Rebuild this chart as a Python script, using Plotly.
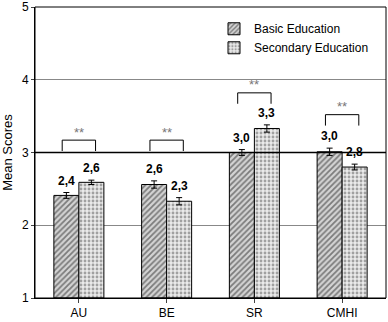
import plotly.graph_objects as go

categories = ["AU", "BE", "SR", "CMHI"]
basic_values = [2.41, 2.56, 3.00, 3.01]
secondary_values = [2.59, 2.33, 3.33, 2.80]
basic_err = [0.04, 0.05, 0.04, 0.05]
secondary_err = [0.03, 0.05, 0.05, 0.04]
basic_labels = ["2,4", "2,6", "3,0", "3,0"]
secondary_labels = ["2,6", "2,3", "3,3", "2,8"]
significance = ["**", "**", "**", "**"]
y_ticks = [1, 2, 3, 4, 5]

# layout constants (bracket heights in data units)
bracket_top = [3.17, 3.17, 3.82, 3.52]
bracket_leg = 0.15
bracket_half = 0.19

FONT = "Liberation Sans, Arial, sans-serif"
bargap = 0.43
half_w = (1 - bargap) / 4

fig = go.Figure()
fig.add_trace(go.Bar(
    x=list(range(len(categories))), y=[v - 1 for v in basic_values], base=1,
    name="Basic Education",
    marker=dict(color="white", line=dict(color="black", width=1),
                pattern=dict(shape="/", fgcolor="#222", bgcolor="#d4d4d4", size=4, solidity=0.45)),
    error_y=dict(type="data", array=basic_err, color="black", thickness=1, width=3),
))
fig.add_trace(go.Bar(
    x=list(range(len(categories))), y=[v - 1 for v in secondary_values], base=1,
    name="Secondary Education",
    marker=dict(color="white", line=dict(color="black", width=1),
                pattern=dict(shape=".", fgcolor="#555", bgcolor="#eaeaea", size=4, solidity=0.4)),
    error_y=dict(type="data", array=secondary_err, color="black", thickness=1, width=3),
))

annotations = []
shapes = []
for i in range(len(categories)):
    for vals, errs, labs, off in ((basic_values, basic_err, basic_labels, -half_w),
                                  (secondary_values, secondary_err, secondary_labels, half_w)):
        annotations.append(dict(x=i + off, y=vals[i] + errs[i], text="<b>" + labs[i] + "</b>",
                                showarrow=False, yshift=12, xref="x", yref="y",
                                font=dict(family=FONT, size=12, color="black")))
    t = bracket_top[i]
    shapes.append(dict(type="path", xref="x", yref="y",
                       path=f"M {i-bracket_half},{t-bracket_leg} L {i-bracket_half},{t} L {i+bracket_half},{t} L {i+bracket_half},{t-bracket_leg}",
                       line=dict(color="black", width=1)))
    annotations.append(dict(x=i, y=t, text=significance[i], showarrow=False, yshift=8,
                            xref="x", yref="y", font=dict(family=FONT, size=13, color="#777")))

# emphasised line at 3
shapes.append(dict(type="line", xref="paper", yref="y", x0=0, x1=1, y0=3, y1=3,
                   line=dict(color="black", width=1.5), layer="above"))
# frame
shapes.append(dict(type="rect", xref="paper", yref="paper", x0=0, x1=1, y0=0, y1=1,
                   line=dict(color="black", width=1)))

fig.update_layout(
    width=388, height=322,
    margin=dict(l=35, r=2, t=7, b=24),
    plot_bgcolor="white", paper_bgcolor="white",
    barmode="group", bargap=bargap, bargroupgap=0,
    font=dict(family=FONT, size=12, color="black"),
    showlegend=True,
    legend=dict(x=0.51, y=0.975, xanchor="left", yanchor="top", bgcolor="rgba(0,0,0,0)",
                font=dict(family=FONT, size=12), itemwidth=30, tracegroupgap=2),
    annotations=annotations, shapes=shapes,
    xaxis=dict(tickmode="array", tickvals=list(range(len(categories))), ticktext=categories,
               range=[-0.5, len(categories) - 0.5], showgrid=False, ticks="outside",
               tickson="boundaries", ticklen=4, showline=True, linecolor="black",
               tickfont=dict(size=12), automargin=False),
    yaxis=dict(range=[1, 5], tickvals=y_ticks, showgrid=True, gridcolor="#888", gridwidth=1,
               ticks="outside", ticklen=3, showline=True, linecolor="black",
               title=dict(text="Mean Scores", font=dict(size=13), standoff=6),
               tickfont=dict(size=12), zeroline=False, automargin=False),
)

fig.write_html("out.html", config={"displayModeBar": False, "staticPlot": True},
               post_script="document.body.style.margin='0';document.body.style.overflow='hidden';")
